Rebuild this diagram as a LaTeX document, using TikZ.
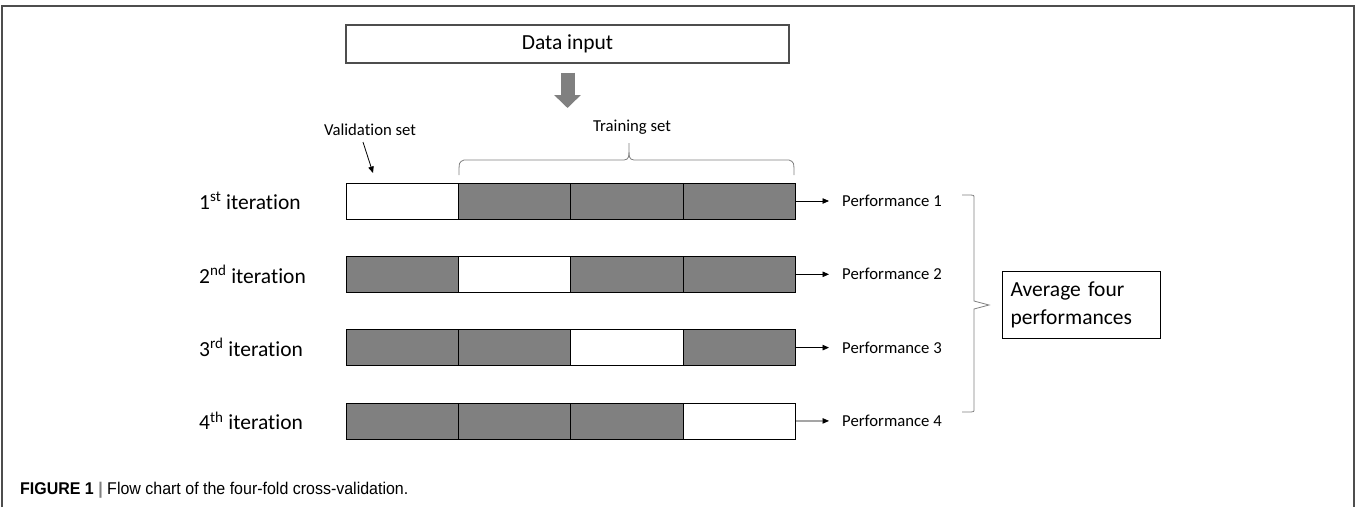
\documentclass[tikz,border=0pt]{standalone}
\usepackage{fontspec}
\setmainfont[Ligatures={NoCommon, NoRare, NoContextual}]{Carlito}
\newfontfamily\capfont[FakeStretch=0.94]{Liberation Sans}
\usepackage{xcolor}
\usepackage{tikz}
\usetikzlibrary{shapes.geometric, arrows, arrows.meta, positioning}

\definecolor{cellgray}{HTML}{808080}
\definecolor{framegray}{HTML}{4D4D4D}

\begin{document}
\begin{tikzpicture}[x=1pt, y=1pt, node distance=112.3pt, every node/.style={inner sep=0pt}]
        % Define block styles
        \tikzstyle{cell} = [rectangle, draw=black, line width=0.8pt, minimum width=112.3pt, minimum height=36pt]
        \tikzstyle{train} = [cell, fill=cellgray]
        \tikzstyle{valid} = [cell, fill=white]
        \tikzstyle{label} = [font=\fontsize{16.7}{20}\selectfont]
        \tikzstyle{big} = [font=\fontsize{21.5}{28}\selectfont]
        \tikzstyle{arrow} = [line width=0.8pt, -{Triangle[length=6.5pt, width=5.5pt]}]
        \tikzstyle{fatarrow} = [line width=14pt, cellgray, -{Triangle[width=26pt, length=13pt]}]
        \tikzstyle{bracket} = [line width=0.8pt, draw=gray]

        \useasboundingbox (0,0) rectangle (1357,-507);
        % Outer frame, open at the bottom
        \draw [line width=1.5pt, framegray] (2,-507) -- (2,-6) -- (1354,-6) -- (1354,-507);

        % Data input and labels
        \node (input) [big, rectangle, draw=framegray, line width=1.2pt, minimum width=443pt, minimum height=38pt] at (567.5,-44) {Data input};
        \coordinate (split) at (567.5,-108);
        \node (validlabel) [label] at (370,-130) {Validation set};
        \node (trainlabel) [label] at (632,-127) {Training set};
        \coordinate (validtip) at (373,-173);

        % Folds, one row per iteration
        \node (r1c1) [valid] at (402.3,-201) {};
        \node (r1c2) [train, right of=r1c1] {};
        \node (r1c3) [train, right of=r1c2] {};
        \node (r1c4) [train, right of=r1c3] {};

        \node (r2c1) [train, node distance=73.3pt, below of=r1c1] {};
        \node (r2c2) [valid, right of=r2c1] {};
        \node (r2c3) [train, right of=r2c2] {};
        \node (r2c4) [train, right of=r2c3] {};

        \node (r3c1) [train, node distance=73.3pt, below of=r2c1] {};
        \node (r3c2) [train, right of=r3c1] {};
        \node (r3c3) [valid, right of=r3c2] {};
        \node (r3c4) [train, right of=r3c3] {};

        \node (r4c1) [train, node distance=73.3pt, below of=r3c1] {};
        \node (r4c2) [train, right of=r4c1] {};
        \node (r4c3) [train, right of=r4c2] {};
        \node (r4c4) [valid, right of=r4c3] {};

        % Iteration names
        \node (it1) [big, anchor=west] at (199,-201) {1\textsuperscript{st} iteration};
        \node (it2) [big, anchor=west] at (199,-274.3) {2\textsuperscript{nd} iteration};
        \node (it3) [big, anchor=west] at (199,-347.6) {3\textsuperscript{rd} iteration};
        \node (it4) [big, anchor=west] at (199,-420.9) {4\textsuperscript{th} iteration};

        % Performances
        \node (perf1) [label, anchor=west] at (842,-201) {Performance 1};
        \node (perf2) [label, anchor=west] at (842,-274.3) {Performance 2};
        \node (perf3) [label, anchor=west] at (842,-347.6) {Performance 3};
        \node (perf4) [label, anchor=west] at (842,-420.9) {Performance 4};

        \coordinate (tip) at (989,-305);
        \node (average) [big, rectangle, draw=black, line width=1.2pt, inner sep=8pt, text width=142pt, align=left, minimum height=67pt, right=13pt of tip] {Average four\\performances};

        % Arrows
        \draw [fatarrow] ([yshift=-9pt]input.south) -- (split);
        \draw [arrow] ([xshift=-7pt, yshift=-6pt]validlabel.south) -- (validtip);
        \draw [arrow] (r1c4.east) -- ([xshift=-13pt]perf1.west);
        \draw [arrow] (r2c4.east) -- ([xshift=-13pt]perf2.west);
        \draw [arrow] (r3c4.east) -- ([xshift=-13pt]perf3.west);
        \draw [arrow] (r4c4.east) -- ([xshift=-13pt]perf4.west);

        % Braces
        \draw [bracket] (459,-175) .. controls (459,-162) .. (464,-160) -- (624,-160)
            .. controls (629,-159) .. (629,-143) .. controls (629,-159) .. (634,-160)
            -- (789,-160) .. controls (794,-162) .. (794,-175);
        \draw [bracket] (962,-195) -- (971,-195) .. controls (974,-195) .. (974,-199)
            -- (974,-301) -- (tip) -- (974,-309) -- (974,-408)
            .. controls (974,-412) .. (971,-412) -- (962,-412);

        % Caption
        \node (caption) [anchor=west, font=\capfont\fontsize{17}{20}\selectfont] at (20,-490)
            {\textbf{FIGURE 1} {\color{gray}\textbf{|}} Flow chart of the four-fold cross-validation.};
    \end{tikzpicture}
\end{document}
